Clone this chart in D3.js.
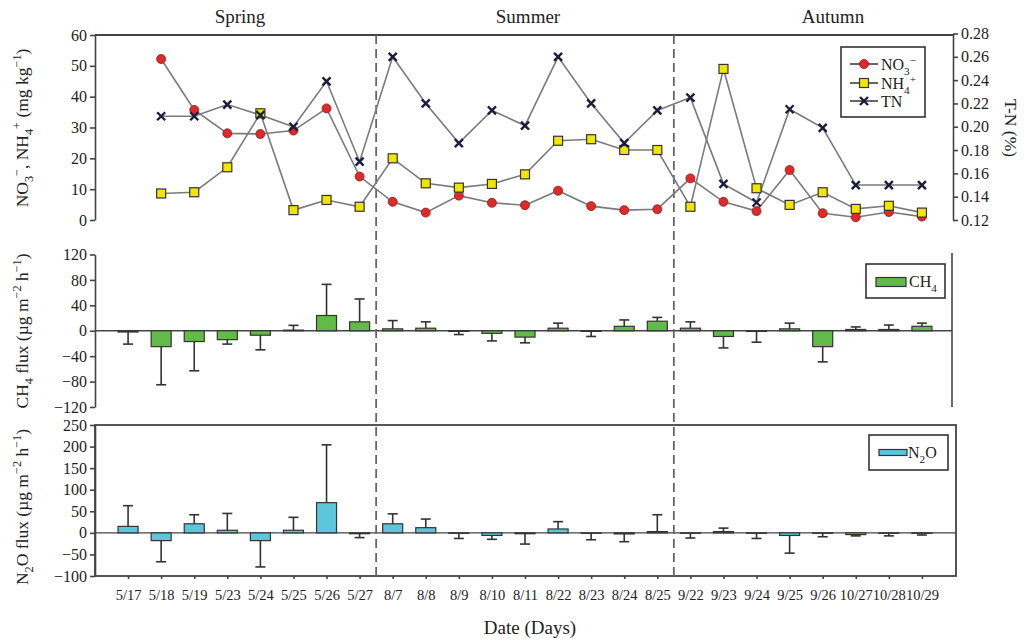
<!DOCTYPE html>
<html>
<head>
<meta charset="utf-8">
<script src="https://cdn.jsdelivr.net/npm/d3@7"></script>
<style>
  body { margin: 0; background: #fff; }
  text { font-family: "Liberation Serif", "Times New Roman", serif; fill: #222; }
  .axis path, .axis line { stroke: #444; stroke-width: 1.6px; }
  .axis text { font-size: 16px; font-family: "Liberation Serif", serif; fill: #222; }
</style>
</head>
<body>
<svg id="chart" width="1036" height="642"></svg>
<script>
// dates on the x axis
var dates = ['5/17','5/18','5/19','5/23','5/24','5/25','5/26','5/27',
  '8/7','8/8','8/9','8/10','8/11','8/22','8/23','8/24','8/25',
  '9/22','9/23','9/24','9/25','9/26','10/27','10/28','10/29'];
var seasons = ['Spring', 'Summer', 'Autumn'];
var seasonBreaks = ['5/27', '8/25'];  // dashed line after these dates

// soil N (mg/kg) and TN (%), no value on 5/17
var no3 = [null, 52.2, 35.7, 28.1, 27.9, 29.0, 36.2, 14.1,
  5.9, 2.4, 7.9, 5.6, 4.8, 9.5, 4.5, 3.2, 3.5,
  13.5, 5.9, 2.9, 16.2, 2.2, 0.9, 2.6, 1.1];
var nh4 = [null, 8.6, 9.0, 17.1, 34.6, 3.2, 6.5, 4.3,
  20.0, 11.9, 10.5, 11.7, 14.8, 25.7, 26.2, 22.7, 22.7,
  4.3, 49.0, 10.3, 4.9, 9.0, 3.6, 4.6, 2.4];
var tn = [null, 0.209, 0.209, 0.219, 0.210, 0.200, 0.239, 0.170,
  0.260, 0.220, 0.186, 0.214, 0.201, 0.260, 0.220, 0.186, 0.214,
  0.225, 0.151, 0.135, 0.215, 0.199, 0.150, 0.150, 0.150];

// fluxes (ug m-2 h-1) with error bar length
var ch4 = [-2, -25, -17, -14, -7, 1, 24, 14,
  3, 4, -1, -4, -10, 4, -1, 7, 15,
  4, -9, -1, 3, -25, 2, 2, 7];
var ch4Err = [19, 60, 46, 7, 23, 7.5, 49, 36,
  13, 10, 5, 12, 9, 8, 8, 10, 6,
  10, 18, 17, 9, 24, 4, 7, 5];
var n2o = [15, -18, 21, 6, -18, 6, 70, -2,
  21, 12, -1, -6, -2, 9, -1, -2.5, 3,
  -1, 3, -1, -6, -1, -4, -1, -1];
var n2oErr = [48, 49, 21, 39, 61, 30, 134, 9,
  23, 20, 12, 9, 24, 17, 15, 18, 39,
  11, 8, 12, 41, 8, 3, 6, 4];

var leftTicks = [0, 10, 20, 30, 40, 50, 60];
var rightTicks = [0.12, 0.14, 0.16, 0.18, 0.20, 0.22, 0.24, 0.26, 0.28];
var ch4Ticks = [-120, -80, -40, 0, 40, 80, 120];
var n2oTicks = [-100, -50, 0, 50, 100, 150, 200, 250];

var svg = d3.select('#chart');
var x0 = 95, x1 = 955;

var x = d3.scalePoint().domain(dates).range([x0, x1]).padding(1);

var yN = d3.scaleLinear().domain([0, 60]).range([220, 35]);
var yTN = d3.scaleLinear().domain([0.12, 0.28]).range([220, 33.5]);
var yC = d3.scaleLinear().domain([-120, 120]).range([407, 254.5]);
var yO = d3.scaleLinear().domain([-100, 250]).range([576, 425]);

var minus = d => d3.format('')(d).replace('-', '\u2212 ');

// rich text helper: parts = [[text, 'sub'|'sup'|null], ...]
function rich(sel, parts, size) {
  var shift = 0;
  parts.forEach(p => {
    var t = sel.append('tspan').text(p[0]);
    var target = p[1] == 'sub' ? size * 0.3 : p[1] == 'sup' ? -size * 0.38 : 0;
    t.attr('dy', target - shift);
    if (p[1]) t.attr('font-size', size * 0.7);
    shift = target;
  });
  return sel;
}

// ---- top panel ----
svg.append('g').attr('class', 'axis').attr('transform', `translate(${x0},0)`)
  .call(d3.axisLeft(yN).tickValues(leftTicks).tickSize(5).tickSizeOuter(0));
svg.append('g').attr('class', 'axis').attr('transform', `translate(953,0)`)
  .call(d3.axisRight(yTN).tickValues(rightTicks).tickFormat(d3.format('.2f')).tickSize(5).tickSizeOuter(0));
svg.append('line').attr('x1', x0).attr('x2', 953).attr('y1', 35).attr('y2', 35)
  .attr('stroke', '#444').attr('stroke-width', 2);

// ---- CH4 panel ----
svg.append('g').attr('class', 'axis').attr('transform', `translate(${x0},0)`)
  .call(d3.axisLeft(yC).tickValues(ch4Ticks).tickFormat(minus).tickSize(5).tickSizeOuter(0));
svg.append('line').attr('x1', 952).attr('x2', 952).attr('y1', 253).attr('y2', 407)
  .attr('stroke', '#444').attr('stroke-width', 1.6);
svg.append('line').attr('x1', x0).attr('x2', 952).attr('y1', yC(0)).attr('y2', yC(0))
  .attr('stroke', '#444').attr('stroke-width', 1.4);

// ---- N2O panel ----
svg.append('g').attr('class', 'axis').attr('transform', `translate(${x0},0)`)
  .call(d3.axisLeft(yO).tickValues(n2oTicks).tickFormat(minus).tickSize(5).tickSizeOuter(0));
svg.append('rect').attr('x', x0).attr('y', 425).attr('width', 956 - x0).attr('height', 151)
  .attr('fill', 'none').attr('stroke', '#444').attr('stroke-width', 1.8);
svg.append('line').attr('x1', x0).attr('x2', 956).attr('y1', yO(0)).attr('y2', yO(0))
  .attr('stroke', '#444').attr('stroke-width', 1.4);

// x axis labels under the N2O box
var xa = svg.append('g').attr('class', 'axis').attr('transform', 'translate(0,576)')
  .call(d3.axisBottom(x).tickSize(3).tickPadding(11));
xa.select('.domain').remove();
xa.selectAll('text').style('font-size', '14.5px');

// season dividers
seasonBreaks.forEach(b => {
  var i = dates.indexOf(b);
  var xm = (x(dates[i]) + x(dates[i + 1])) / 2;
  svg.append('line').attr('x1', xm).attr('x2', xm).attr('y1', 35).attr('y2', 576)
    .attr('stroke', '#666').attr('stroke-width', 1.8).attr('stroke-dasharray', '9,5');
});

// season titles
var seasonX = [240, 528, 833];
seasons.forEach((s, i) => {
  svg.append('text').attr('x', seasonX[i]).attr('y', 23).attr('text-anchor', 'middle')
    .attr('font-size', 19).text(s);
});

// ---- lines ----
function drawLine(vals, y) {
  var line = d3.line().defined(d => d[1] != null).x(d => x(d[0])).y(d => y(d[1]));
  svg.append('path').datum(dates.map((d, i) => [d, vals[i]]))
    .attr('fill', 'none').attr('stroke', '#7a7a7a').attr('stroke-width', 1.6)
    .attr('d', line);
}
drawLine(no3, yN);
drawLine(nh4, yN);
drawLine(tn, yTN);

var pts = (vals) => dates.map((d, i) => ({ d: d, v: vals[i] })).filter(p => p.v != null);

svg.selectAll('.no3').data(pts(no3)).enter().append('circle')
  .attr('cx', p => x(p.d)).attr('cy', p => yN(p.v)).attr('r', 4.5)
  .attr('fill', '#e02a2a').attr('stroke', '#8a1a1a').attr('stroke-width', 0.8);
svg.selectAll('.nh4').data(pts(nh4)).enter().append('rect')
  .attr('x', p => x(p.d) - 4.5).attr('y', p => yN(p.v) - 4.5).attr('width', 9).attr('height', 9)
  .attr('fill', '#f2e600').attr('stroke', '#333').attr('stroke-width', 1.2);
function cross(g, cx, cy) {
  g.append('path').attr('d', `M${cx - 4},${cy - 4}L${cx + 4},${cy + 4}M${cx - 4},${cy + 4}L${cx + 4},${cy - 4}`)
    .attr('stroke', '#1c1c40').attr('stroke-width', 2.4);
}
pts(tn).forEach(p => cross(svg, x(p.d), yTN(p.v)));

// top legend
var lg = svg.append('g');
lg.append('rect').attr('x', 841).attr('y', 47).attr('width', 84).attr('height', 70)
  .attr('fill', '#fff').attr('stroke', '#333').attr('stroke-width', 1.6);
[64, 83, 101].forEach((ly, i) => {
  lg.append('line').attr('x1', 850).attr('x2', 878).attr('y1', ly).attr('y2', ly)
    .attr('stroke', '#555').attr('stroke-width', 1.8);
  if (i == 0) lg.append('circle').attr('cx', 864).attr('cy', ly).attr('r', 4.5)
    .attr('fill', '#e02a2a').attr('stroke', '#8a1a1a').attr('stroke-width', 0.8);
  if (i == 1) lg.append('rect').attr('x', 859.5).attr('y', ly - 4.5).attr('width', 9).attr('height', 9)
    .attr('fill', '#f2e600').attr('stroke', '#333').attr('stroke-width', 1.2);
  if (i == 2) cross(lg, 864, ly);
});
rich(lg.append('text').attr('x', 881).attr('y', 70).attr('font-size', 16), [['NO', null], ['3', 'sub'], ['\u2212', 'sup']], 16);
rich(lg.append('text').attr('x', 881).attr('y', 89).attr('font-size', 16), [['NH', null], ['4', 'sub'], ['+', 'sup']], 16);
lg.append('text').attr('x', 881).attr('y', 107).attr('font-size', 16).text('TN');

// ---- bars ----
function drawBars(vals, errs, y, fill) {
  var bw = 20;
  var data = dates.map((d, i) => ({ d: d, v: vals[i], e: errs[i] }));
  svg.append('g').selectAll('rect').data(data).enter().append('rect')
    .attr('x', p => x(p.d) - bw / 2).attr('width', bw)
    .attr('y', p => y(Math.max(0, p.v))).attr('height', p => Math.abs(y(p.v) - y(0)))
    .attr('fill', fill).attr('stroke', '#333').attr('stroke-width', 1.2);
  var eg = svg.append('g').attr('stroke', '#333').attr('stroke-width', 1.6);
  data.forEach(p => {
    var end = p.v + (p.v >= 0 ? p.e : -p.e);
    eg.append('line').attr('x1', x(p.d)).attr('x2', x(p.d)).attr('y1', y(p.v)).attr('y2', y(end));
    eg.append('line').attr('x1', x(p.d) - 5).attr('x2', x(p.d) + 5).attr('y1', y(end)).attr('y2', y(end));
  });
}
drawBars(ch4, ch4Err, yC, '#62bb46');
drawBars(n2o, n2oErr, yO, '#5cc6dc');

// bar legends
svg.append('rect').attr('x', 866).attr('y', 264).attr('width', 79).attr('height', 34)
  .attr('fill', '#fff').attr('stroke', '#333').attr('stroke-width', 1.6);
svg.append('rect').attr('x', 876).attr('y', 277.5).attr('width', 30).attr('height', 9)
  .attr('fill', '#62bb46').attr('stroke', '#333').attr('stroke-width', 1.2);
rich(svg.append('text').attr('x', 909).attr('y', 287).attr('font-size', 16), [['CH', null], ['4', 'sub']], 16);

svg.append('rect').attr('x', 869).attr('y', 435).attr('width', 79).attr('height', 35)
  .attr('fill', '#fff').attr('stroke', '#333').attr('stroke-width', 1.6);
svg.append('rect').attr('x', 879).attr('y', 449.5).attr('width', 28).attr('height', 6)
  .attr('fill', '#5cc6dc').attr('stroke', '#333').attr('stroke-width', 1.2);
rich(svg.append('text').attr('x', 908).attr('y', 458).attr('font-size', 16), [['N', null], ['2', 'sub'], ['O', null]], 16);

// ---- axis titles ----
var ts = 17.5;
rich(svg.append('text').attr('transform', 'translate(28,128) rotate(-90)').attr('text-anchor', 'middle').attr('font-size', ts),
  [['NO', null], ['3', 'sub'], ['\u2212', 'sup'], [', NH', null], ['4', 'sub'], ['+', 'sup'], [' (mg kg', null], ['\u22121', 'sup'], [')', null]], ts);
rich(svg.append('text').attr('transform', 'translate(28,331) rotate(-90)').attr('text-anchor', 'middle').attr('font-size', ts),
  [['CH', null], ['4', 'sub'], [' flux (\u00b5g m', null], ['\u22122', 'sup'], [' h', null], ['\u22121', 'sup'], [')', null]], ts);
rich(svg.append('text').attr('transform', 'translate(28,507) rotate(-90)').attr('text-anchor', 'middle').attr('font-size', ts),
  [['N', null], ['2', 'sub'], ['O flux (\u00b5g m', null], ['\u22122', 'sup'], [' h', null], ['\u22121', 'sup'], [')', null]], ts);
svg.append('text').attr('transform', 'translate(1005,128) rotate(90)').attr('text-anchor', 'middle')
  .attr('font-size', ts).text('T-N (%)');
svg.append('text').attr('x', 530).attr('y', 634).attr('text-anchor', 'middle').attr('font-size', 19).text('Date (Days)');
</script>
</body>
</html>
